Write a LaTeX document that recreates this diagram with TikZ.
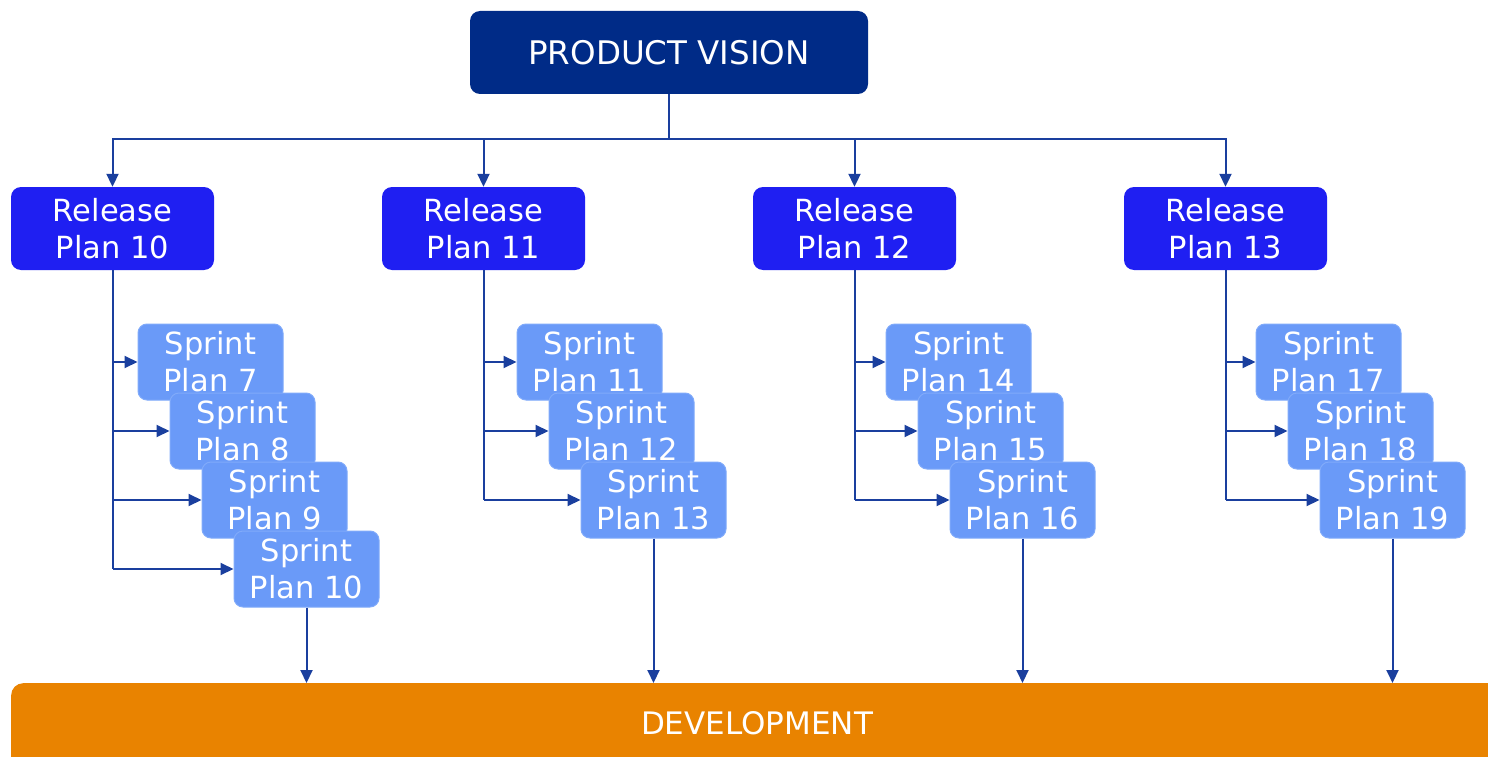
\documentclass[tikz,border=0pt]{standalone}
\usepackage{fontspec}
\setmainfont{DejaVu Sans}
\usetikzlibrary{arrows.meta}
\definecolor{navy}{HTML}{002B87}
\definecolor{relblue}{HTML}{1F1FF2}
\definecolor{sprblue}{HTML}{6A9AF8}
\definecolor{sprline}{HTML}{80AAFA}
\definecolor{devorange}{HTML}{E98300}
\definecolor{conn}{HTML}{1A3F9E}
\tikzset{
  vision/.style={fill=navy, rounded corners=10pt, minimum width=398pt, minimum height=83pt, text=white, font=\fontsize{32.5}{37}\selectfont, inner sep=0pt},
  release/.style={fill=relblue, rounded corners=10pt, minimum width=203pt, minimum height=83pt, text=white, font=\fontsize{30.5}{37}\selectfont, align=center, inner sep=0pt},
  sprintbox/.style={fill=sprblue, draw=sprline, line width=1pt, rounded corners=9pt, minimum width=145pt, minimum height=76pt, text=white, font=\fontsize{30.5}{37}\selectfont, align=center, inner sep=0pt},
  devbox/.style={fill=devorange, rounded corners=12pt, minimum width=1500pt, minimum height=90pt, inner sep=0pt},
  devlabel/.style={text=white, font=\fontsize{31}{36}\selectfont},
  link/.style={draw=conn, line width=2pt},
  arrow/.style={link, -{Triangle[length=13pt,width=12pt]}},
}
\begin{document}
\begin{tikzpicture}[x=1pt,y=-1pt]
\useasboundingbox (0,0) rectangle (1488,757);
\clip (0,0) rectangle (1488,757);
\fill[white] (0,0) rectangle (1488,757);

\node[devbox, anchor=north west] (dev) at (11,683) {};
\node[devlabel] (devtext) at (757,723) {DEVELOPMENT};

\node[vision] (pv) at (669,52.5) {PRODUCT VISION};
\coordinate (hub) at (669,139);

\node[release] (r10) at (112.5,228.5) {Release\\Plan 10};
\node[release] (r11) at (483.5,228.5) {Release\\Plan 11};
\node[release] (r12) at (854.5,228.5) {Release\\Plan 12};
\node[release] (r13) at (1225.5,228.5) {Release\\Plan 13};

\draw[link] (pv.south) -- (hub);
\foreach \r in {r10,r11,r12,r13}{
  \draw[arrow] (hub) -| (\r.north);
}

% group 1
\node[sprintbox] (s7) at (210.5,362) {Sprint\\Plan 7};
\node[sprintbox] (s8) at (242.5,431) {Sprint\\Plan 8};
\node[sprintbox] (s9) at (274.5,500) {Sprint\\Plan 9};
\node[sprintbox] (s10) at (306.5,569) {Sprint\\Plan 10};
% group 2
\node[sprintbox] (s11) at (589.5,362) {Sprint\\Plan 11};
\node[sprintbox] (s12) at (621.5,431) {Sprint\\Plan 12};
\node[sprintbox] (s13) at (653.5,500) {Sprint\\Plan 13};
% group 3
\node[sprintbox] (s14) at (958.5,362) {Sprint\\Plan 14};
\node[sprintbox] (s15) at (990.5,431) {Sprint\\Plan 15};
\node[sprintbox] (s16) at (1022.5,500) {Sprint\\Plan 16};
% group 4
\node[sprintbox] (s17) at (1328.5,362) {Sprint\\Plan 17};
\node[sprintbox] (s18) at (1360.5,431) {Sprint\\Plan 18};
\node[sprintbox] (s19) at (1392.5,500) {Sprint\\Plan 19};

% release to sprint connectors
\draw[link] (r10.south) -- (r10.south |- s10.west);
\foreach \s in {s7,s8,s9,s10}{ \draw[arrow] (r10.south |- \s.west) -- (\s.west); }
\draw[link] (r11.south) -- (r11.south |- s13.west);
\foreach \s in {s11,s12,s13}{ \draw[arrow] (r11.south |- \s.west) -- (\s.west); }
\draw[link] (r12.south) -- (r12.south |- s16.west);
\foreach \s in {s14,s15,s16}{ \draw[arrow] (r12.south |- \s.west) -- (\s.west); }
\draw[link] (r13.south) -- (r13.south |- s19.west);
\foreach \s in {s17,s18,s19}{ \draw[arrow] (r13.south |- \s.west) -- (\s.west); }

% sprint to development
\foreach \s in {s10,s13,s16,s19}{ \draw[arrow] (\s.south) -- (\s.south |- dev.north); }
\end{tikzpicture}
\end{document}
